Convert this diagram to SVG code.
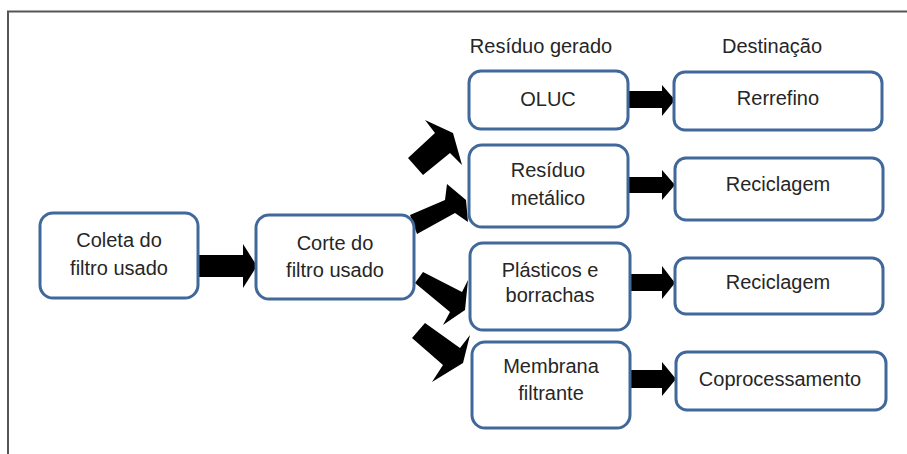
<svg xmlns="http://www.w3.org/2000/svg" width="907" height="454" viewBox="0 0 907 454">
<style>
.box{fill:#fff;stroke:#41689b;stroke-width:3}
.t{font-family:"Liberation Sans",Arial,sans-serif;font-size:20px;fill:#262626;text-anchor:middle}
.arr{fill:#000}
</style>
<rect x="0" y="0" width="907" height="454" fill="#fff"/>
<path d="M8 454 V11.5 H907" fill="none" stroke="#555" stroke-width="2"/>
<text class="t" x="541" y="53">Resíduo gerado</text>
<text class="t" x="772" y="53">Destinação</text>
<g id="connectors">
<polygon class="arr" points="198,255 243,255 243,244 257,266 243,288 243,277 198,277"/>
<polygon class="arr" points="408,158 435,133 425,120 453,133 462,165 450,153 423,175"/>
<polygon class="arr" points="410,215 445,200 447,184 466,200 468,222 455,213 417,234"/>
<polygon class="arr" points="423,272 462,292 468,280 465,310 443,325 450,312 415,283"/>
<polygon class="arr" points="425,323 460,348 470,335 463,363 432,382 443,365 412,338"/>
<polygon class="arr" points="628,91 662,91 662,85 675,100 662,116 662,108 628,108"/>
<polygon class="arr" points="628,177 662,177 662,170 675,185 662,200 662,193 628,193"/>
<polygon class="arr" points="630,274 662,274 662,266 675,283 662,299 662,291 630,291"/>
<polygon class="arr" points="630,370 662,370 662,362 676,379 662,396 662,388 630,388"/>
</g>
<g id="coleta"><rect class="box" x="40" y="213" width="158" height="85" rx="13"/><text class="t" x="119" y="247">Coleta do</text><text class="t" x="119" y="275">filtro usado</text></g>
<g id="corte"><rect class="box" x="256" y="215" width="158" height="84" rx="13"/><text class="t" x="335" y="250">Corte do</text><text class="t" x="335" y="277">filtro usado</text></g>
<g id="oluc"><rect class="box" x="469" y="71" width="159" height="58" rx="12"/><text class="t" x="548" y="106">OLUC</text></g>
<g id="metalico"><rect class="box" x="469" y="145" width="159" height="82" rx="13"/><text class="t" x="548" y="177">Resíduo</text><text class="t" x="548" y="205">metálico</text></g>
<g id="plasticos"><rect class="box" x="470" y="243" width="160" height="87" rx="13"/><text class="t" x="550" y="277">Plásticos e</text><text class="t" x="550" y="302">borrachas</text></g>
<g id="membrana"><rect class="box" x="472" y="342" width="158" height="86" rx="13"/><text class="t" x="551" y="373">Membrana</text><text class="t" x="551" y="400">filtrante</text></g>
<g id="rerrefino"><rect class="box" x="674" y="72" width="208" height="58" rx="11"/><text class="t" x="778" y="105">Rerrefino</text></g>
<g id="reciclagem1"><rect class="box" x="675" y="158" width="208" height="62" rx="11"/><text class="t" x="778" y="191">Reciclagem</text></g>
<g id="reciclagem2"><rect class="box" x="675" y="258" width="208" height="56" rx="11"/><text class="t" x="778" y="289">Reciclagem</text></g>
<g id="coprocessamento"><rect class="box" x="676" y="352" width="210" height="58" rx="11"/><text class="t" x="780" y="386">Coprocessamento</text></g>
</svg>
